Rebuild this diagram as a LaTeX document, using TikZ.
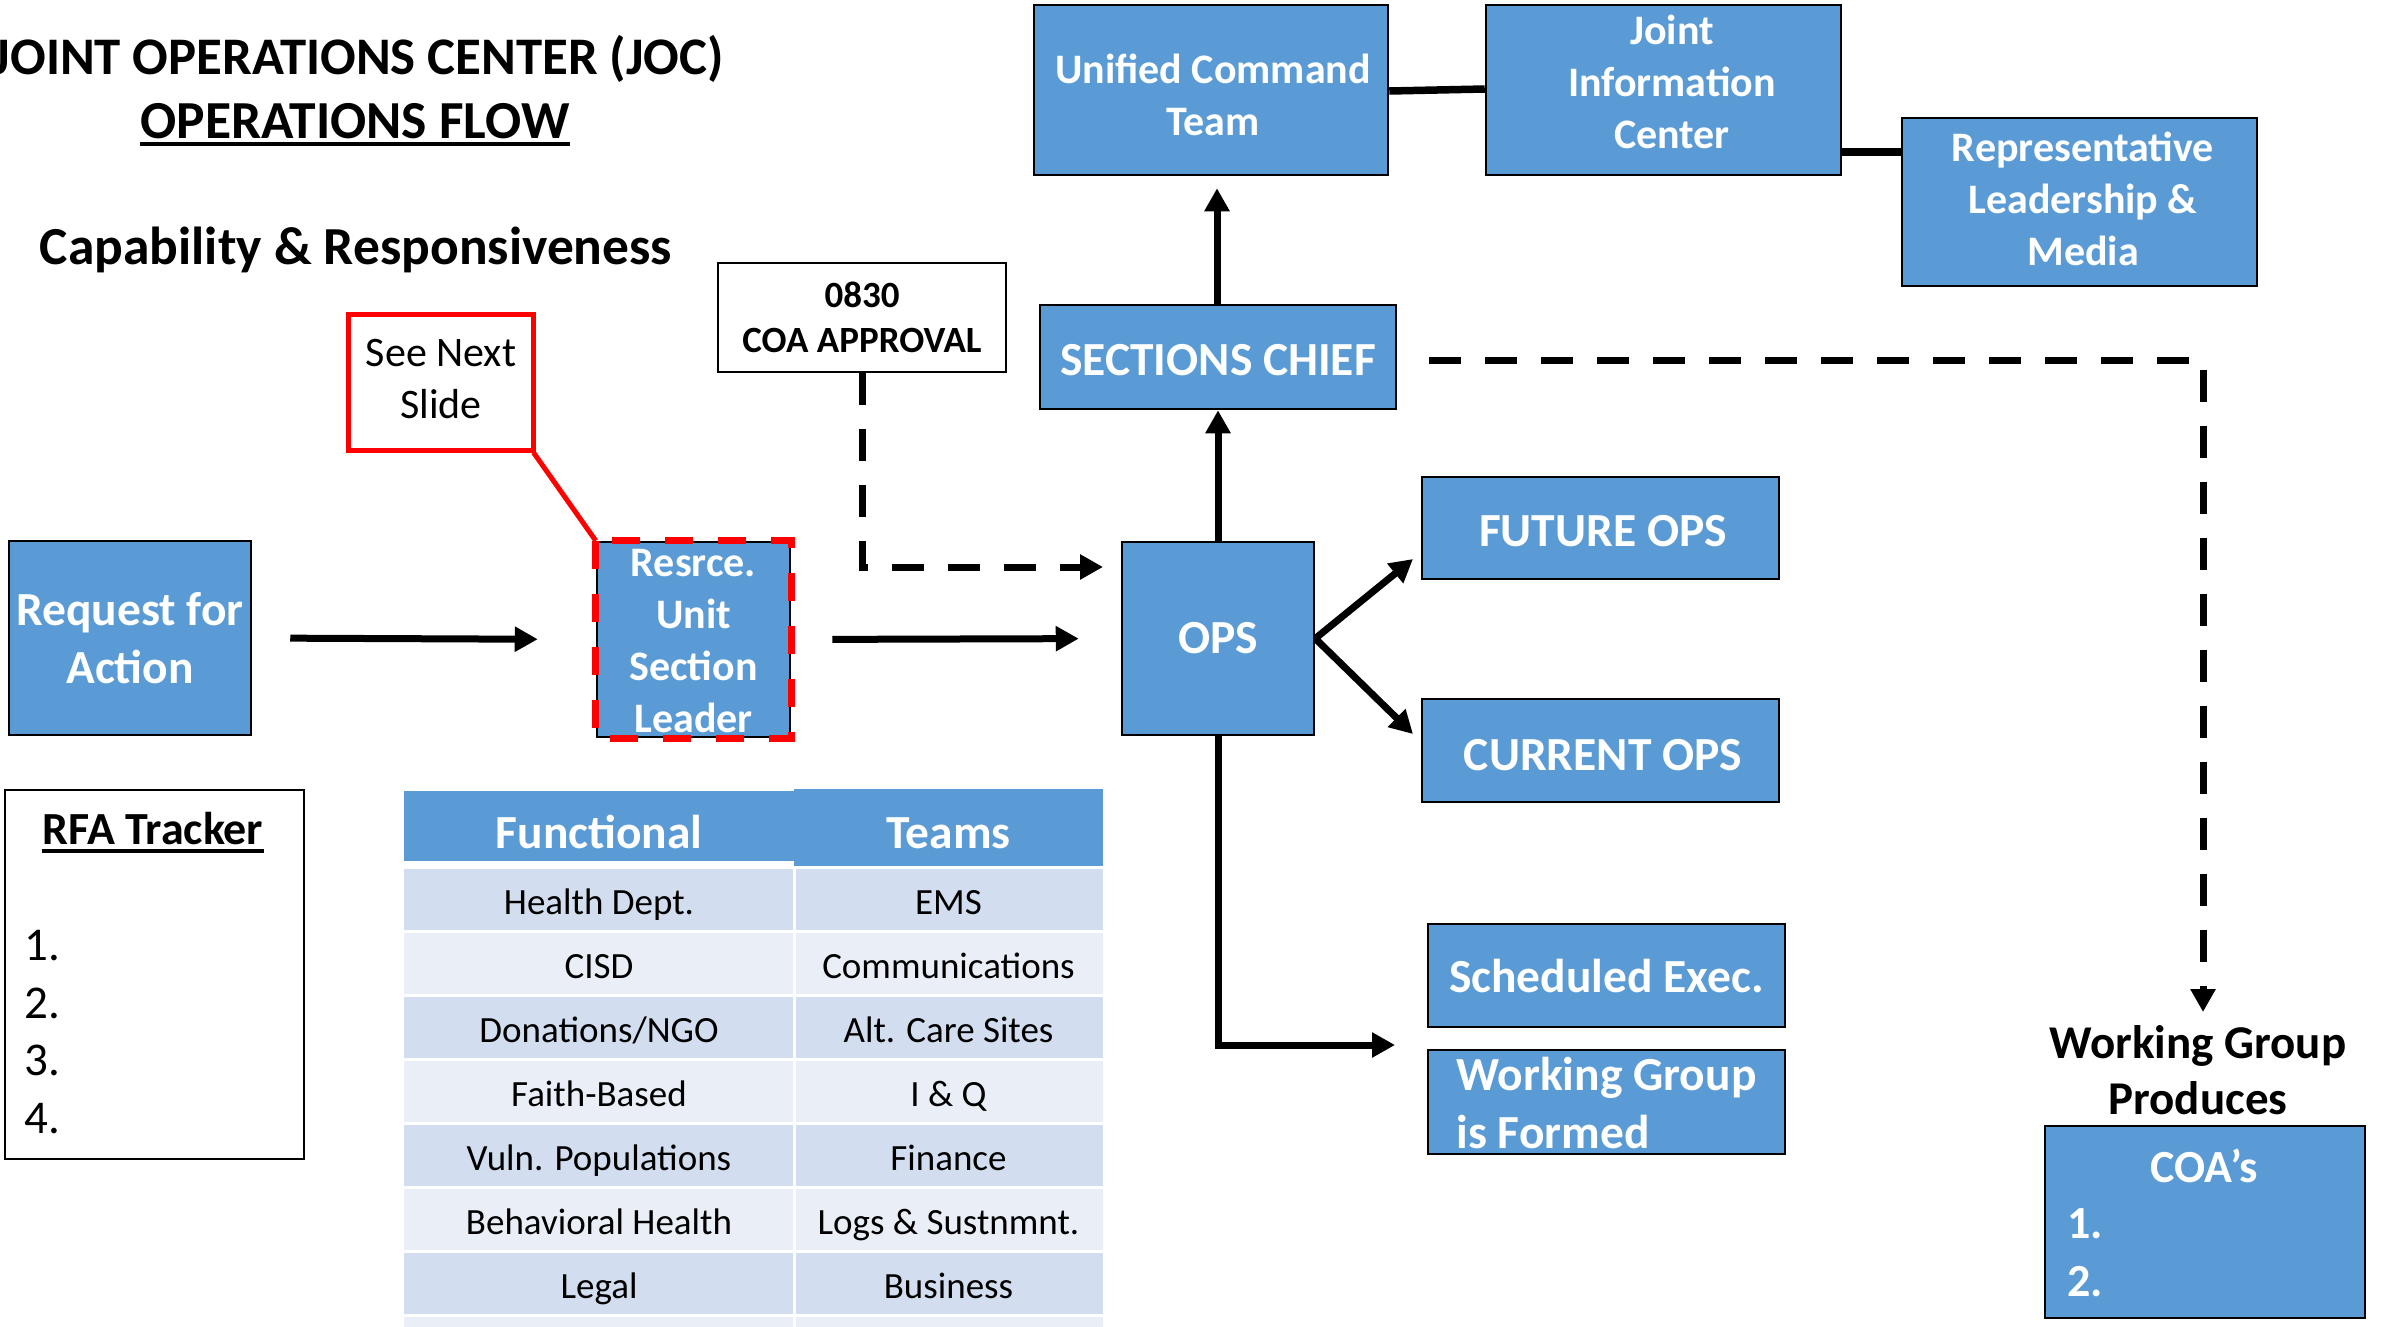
\documentclass[tikz,border=0pt]{standalone}
\usepackage{fontspec}
\setmainfont{Carlito}
\usetikzlibrary{arrows.meta,calc}
\definecolor{boxblue}{HTML}{5B9BD5}
\definecolor{rowdark}{HTML}{D2DEEF}
\definecolor{rowlight}{HTML}{EAEFF7}
\begin{document}
\begin{tikzpicture}[x=1pt,y=-1pt,
  bluebox/.style={draw=black,line width=2.5pt,fill=boxblue,text=white,align=center,inner sep=0pt},
  plainbox/.style={draw=black,line width=2.5pt,fill=white,align=center,inner sep=0pt},
  txt/.style={inner sep=0pt,align=center},
  wtxt/.style={inner sep=0pt,align=center,text=white},
  bA/.style={font=\fontsize{47.5}{58}\selectfont\bfseries},
  bB/.style={font=\fontsize{42}{52}\selectfont\bfseries},
  bT/.style={font=\fontsize{53.5}{64}\selectfont\bfseries},
  bTT/.style={font=\fontsize{52.8}{64}\selectfont\bfseries},
  rC/.style={font=\fontsize{37}{44}\selectfont},
  conn/.style={line width=7pt},
  arr/.style={line width=7pt,-{Triangle[length=23pt,width=24pt]}},
  dashedarr/.style={line width=7pt,dash pattern=on 32pt off 24pt,-{Triangle[length=23pt,width=24pt]}}
]
\useasboundingbox (0,0) rectangle (2382,1326);
\fill[white] (0,0) rectangle (2382,1326);
\clip (0,0) rectangle (2382,1326);

% ---- titles
\node[txt,bTT,anchor=base east] (title) at (724,74) {JOINT OPERATIONS CENTER (JOC)};
\node[txt,bT,anchor=base] (flow) at (355,138) {OPERATIONS FLOW};
\draw[line width=4pt] ([yshift=-6pt]flow.base west) -- ([yshift=-6pt]flow.base east);
\node[txt,bT,anchor=base] (cap) at (356,264) {Capability \& Responsiveness};

% ---- boxes
\node[bluebox,bA,minimum width=242pt,minimum height=194pt] (rfa) at (130,638) {Request for\\Action};
\node[bluebox,minimum width=193pt,minimum height=195pt] (rusl) at (693.5,639.5) {};
\node[wtxt,bB] (ruslt) at (693.5,641) {Resrce.\\Unit\\Section\\Leader};
\draw[red,line width=7pt,dash pattern=on 28pt off 25pt] (rusl.north west) rectangle (rusl.south east);
\node[bluebox,bA,minimum width=192pt,minimum height=193pt] (ops) at (1218,638.5) {OPS};
\node[bluebox,minimum width=356pt,minimum height=104pt] (sc) at (1218,357) {};
\node[wtxt,bA] (sct) at (1218,360) {SECTIONS CHIEF};
\node[bluebox,minimum width=354pt,minimum height=170pt] (uct) at (1211,90) {};
\node[wtxt,bB] (uctt) at (1213,95) {Unified Command\\Team};
\node[bluebox,minimum width=355pt,minimum height=170pt] (jic) at (1663.5,90) {};
\node[wtxt,bB] (jict) at (1672,82) {Joint\\Information\\Center};
\node[bluebox,minimum width=355pt,minimum height=168pt] (rlm) at (2079.5,202) {};
\node[wtxt,bB] (rlmt) at (2083,199) {Representative\\Leadership \&\\Media};
\node[bluebox,minimum width=357pt,minimum height=102pt] (fut) at (1600.5,528) {};
\node[wtxt,bA] (futt) at (1603,531) {FUTURE OPS};
\node[bluebox,minimum width=357pt,minimum height=103pt] (cur) at (1600.5,750.5) {};
\node[wtxt,bA] (curt) at (1603,755) {CURRENT OPS};
\node[bluebox,bA,minimum width=357pt,minimum height=103pt] (sch) at (1606.5,975.5) {Scheduled Exec.};
\node[bluebox,minimum width=357pt,minimum height=104pt] (wgf) at (1606.5,1102) {};
\node[wtxt,bA,align=left] (wgft) at (1606.5,1103) {Working Group\\is Formed};
\node[bluebox,minimum width=320pt,minimum height=192pt] (coas) at (2205,1222) {};
\node[wtxt,font=\fontsize{46}{56}\selectfont\bfseries,anchor=base] (coast) at (2204,1182) {COA’s};
\node[wtxt,font=\fontsize{46}{56}\selectfont\bfseries,anchor=base west] (coa1) at (2067,1238) {1.};
\node[wtxt,font=\fontsize{46}{56}\selectfont\bfseries,anchor=base west] (coa2) at (2067,1296) {2.};
\node[txt,font=\fontsize{47}{56}\selectfont\bfseries] (wgp) at (2198,1070) {Working Group\\Produces};
\node[plainbox,minimum width=288pt,minimum height=109pt,font=\fontsize{37}{45}\selectfont\bfseries] (appr) at (862,317.5) {0830\\COA APPROVAL};
\node[draw=red,line width=5pt,minimum width=185pt,minimum height=136pt] (sn) at (440.5,382) {};
\node[txt,font=\fontsize{42}{52}\selectfont] (snt) at (441,379) {See Next\\Slide};

% ---- RFA tracker
\node[plainbox,minimum width=299pt,minimum height=369pt] (trk) at (154.5,974.5) {};
\node[txt,font=\fontsize{46}{56}\selectfont\bfseries,anchor=base] (trkt) at (153,844) {RFA Tracker};
\draw[line width=3.5pt] ([yshift=-7pt]trkt.base west) -- ([yshift=-7pt]trkt.base east);
\foreach \n/\yy in {1/960,2/1018,3/1075,4/1133}
  \node[txt,font=\fontsize{47}{57}\selectfont,anchor=base west] (trk\n) at (24,\yy) {\n.};

% ---- table
\fill[boxblue] (404,791) rectangle (794,861);
\fill[boxblue] (794,789) rectangle (1103,866);
\node[wtxt,bA,anchor=base] (thf) at (599,848) {Functional};
\node[wtxt,bA,anchor=base] (tht) at (948.5,848) {Teams};
\foreach \i/\c/\a/\b in {0/rowdark/Health Dept./EMS,
                         1/rowlight/CISD/Communications,
                         2/rowdark/{Donations/NGO}/Alt. Care Sites,
                         3/rowlight/Faith-Based/I \& Q,
                         4/rowdark/Vuln. Populations/Finance,
                         5/rowlight/Behavioral Health/Logs \& Sustnmnt.,
                         6/rowdark/Legal/Business,
                         7/rowlight/{}/{}} {
  \pgfmathsetmacro\ytop{867+64*\i}
  \fill[\c] (404,\ytop+1.5) rectangle (792.5,\ytop+62.5);
  \fill[\c] (795.5,\ytop+1.5) rectangle (1103,\ytop+62.5);
  \node[txt,rC,anchor=base] (ta\i) at (599,\ytop+47) {\a};
  \node[txt,rC,anchor=base] (tb\i) at (948.5,\ytop+47) {\b};
}

% ---- connectors
\coordinate (opsdash) at (1103,567);
\coordinate (futtip) at (1413,559);
\coordinate (curtip) at (1413,734);
\coordinate (wgtip) at (1395,1045);
\coordinate (wgtop) at (2203,1012);

\draw[conn,line width=7.5pt] ([yshift=-1pt]uct.east) -- ([yshift=1pt]jic.west);
\draw[conn,line width=7.5pt] (jic.east |- 0,152) -- (rlm.west |- 0,152);
\draw[arr,shorten >=12pt] (sc.north -| 1217,0) -- (uct.south -| 1217,0);
\draw[arr] (ops.north) -- (sc.south);
\draw[arr,shorten <=38pt,shorten >=58pt] (rfa.east) -- (rusl.west);
\draw[arr,shorten <=41pt,shorten >=42pt] (rusl.east) -- (ops.west);
\draw[arr] (ops.east) -- (futtip);
\draw[arr] (ops.east) -- (curtip);
\draw[arr] (ops.south) |- (wgtip);
\draw[dashedarr] (appr.south) |- (opsdash);
\draw[dashedarr] ([xshift=32pt]sc.east |- 0,360) -| (wgtop);
\draw[red,line width=5pt] ([xshift=-2pt]sn.south east) -- (rusl.north west);
\end{tikzpicture}
\end{document}
